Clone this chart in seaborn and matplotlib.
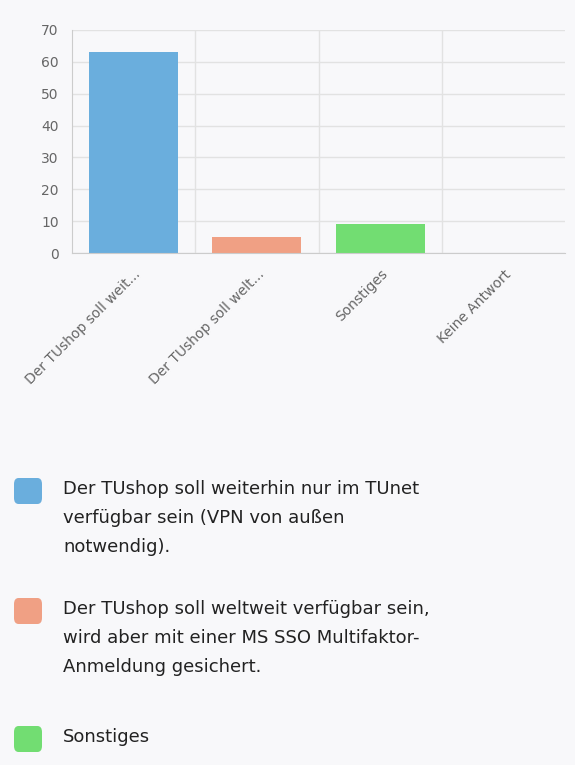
import numpy as np
import pandas as pd
import matplotlib
matplotlib.use("Agg")
import matplotlib.pyplot as plt
import seaborn as sns
from matplotlib.patches import FancyBboxPatch

short_labels = ["Der TUshop soll weit...", "Der TUshop soll welt...", "Sonstiges", "Keine Antwort"]
values = [63, 5, 9, 0]
colors = ["#6aaedd", "#f0a084", "#72dd72", "#bbbbbb"]
legend_texts = [
    "Der TUshop soll weiterhin nur im TUnet\nverfügbar sein (VPN von außen\nnotwendig).",
    "Der TUshop soll weltweit verfügbar sein,\nwird aber mit einer MS SSO Multifaktor-\nAnmeldung gesichert.",
    "Sonstiges",
]

bg = "#f8f8fa"
sns.set_style("white")
plt.rcParams["font.family"] = ["DejaVu Sans"]

fig = plt.figure(figsize=(5.75, 7.65), dpi=100, facecolor=bg)
ax = fig.add_axes([0.125, 0.669, 0.858, 0.292], facecolor=bg)

df = pd.DataFrame({"cat": short_labels, "val": values})
sns.barplot(data=df, x="cat", y="val", hue="cat", palette=colors, legend=False,
            width=0.72, ax=ax, saturation=1, linewidth=0)

ax.set_xlim(-0.5, 3.5)
ax.set_ylim(0, 70)
ax.set_yticks(range(0, 71, 10))
ax.set_xlabel("")
ax.set_ylabel("")
ax.grid(axis="y", color="#e2e2e2", linewidth=1)
for xb in [0.5, 1.5, 2.5]:
    ax.axvline(xb, color="#e2e2e2", linewidth=1, zorder=0)
ax.set_axisbelow(True)
for s in ["top", "right"]:
    ax.spines[s].set_visible(False)
for s in ["left", "bottom"]:
    ax.spines[s].set_color("#cccccc")
ax.set_xticks(range(4))
ax.set_xticklabels(short_labels, rotation=45, ha="right", rotation_mode="anchor",
                   fontsize=10, color="#666666")
ax.set_xticks([-0.5, 0.5, 1.5, 2.5, 3.5], minor=True)
ax.tick_params(axis="x", which="major", length=0, pad=10)
ax.tick_params(axis="x", which="minor", length=6, color="#cccccc")
ax.tick_params(axis="y", length=6, color="#cccccc", labelsize=10, labelcolor="#666666")

# legend
ys = [492, 612, 740]
for y, c, t in zip(ys, colors, legend_texts):
    fy = 1 - y / 765
    fig.patches.append(FancyBboxPatch((14 / 575, fy - 12 / 765), 28 / 575, 26 / 765,
                                      boxstyle="round,pad=0,rounding_size=0.008",
                                      transform=fig.transFigure, facecolor=c,
                                      edgecolor="none"))
    fig.text(63 / 575, fy + 12 / 765, t, fontsize=13, color="#222222",
             va="top", ha="left", linespacing=1.8)

fig.savefig("out.png", dpi=100, facecolor=bg)
